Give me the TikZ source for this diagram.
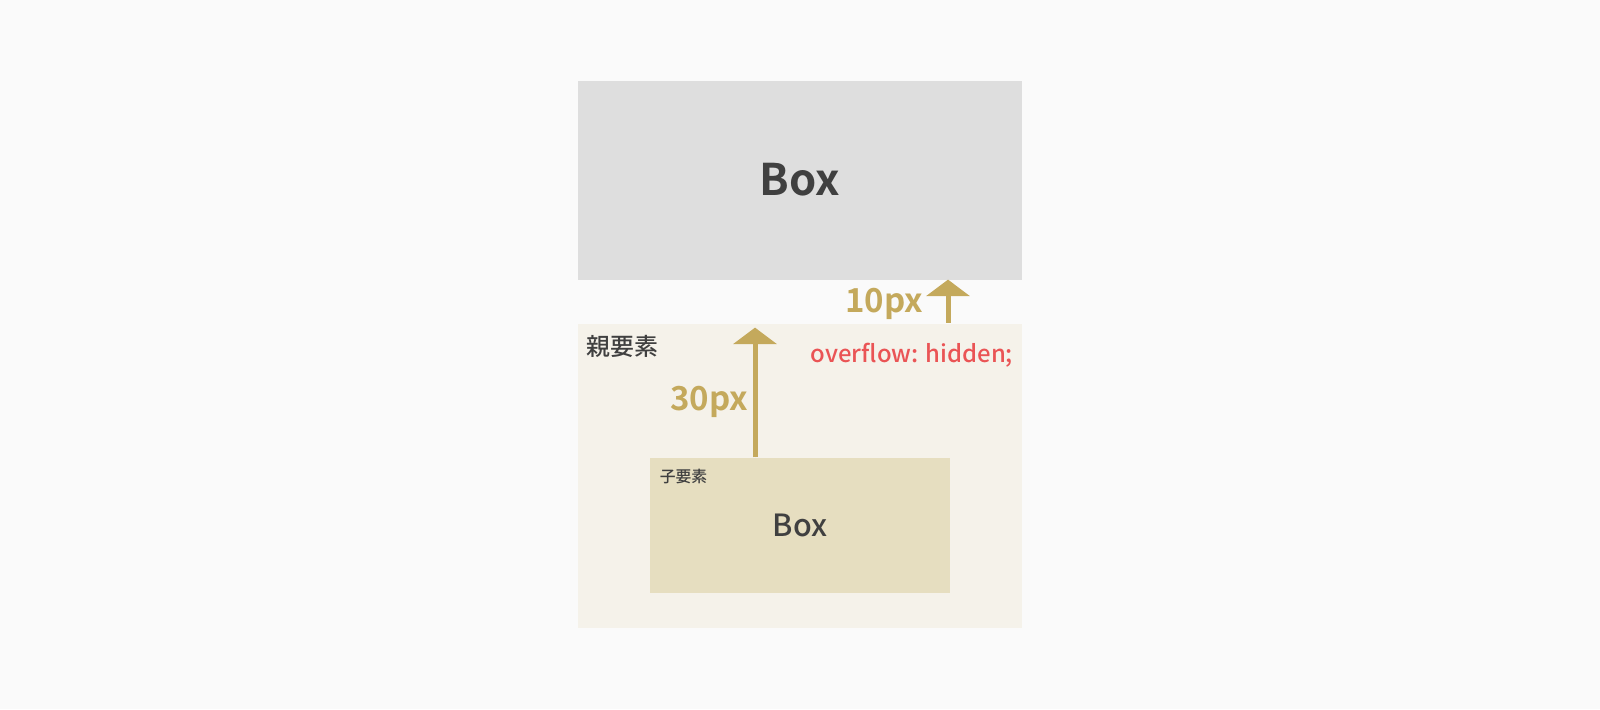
\documentclass[tikz,border=0pt]{standalone}
\usepackage{fontspec}
\setmainfont{Noto Sans CJK JP}[BoldFont={Noto Sans CJK JP Medium}]
\newfontfamily\heavyfont{Noto Sans CJK JP Bold}
\usetikzlibrary{arrows.meta}
\definecolor{bgcol}{HTML}{FAFAFA}
\definecolor{boxgray}{HTML}{DEDEDE}
\definecolor{parentcol}{HTML}{F5F2EA}
\definecolor{childcol}{HTML}{E6DEC0}
\definecolor{gold}{HTML}{C4A95C}
\definecolor{ink}{HTML}{404040}
\definecolor{alert}{HTML}{EA5455}
\begin{document}
\begin{tikzpicture}[
    panel/.style={rectangle, inner sep=0pt, text=ink, font=\bfseries},
    tag/.style={inner sep=0pt, text=ink, font=\bfseries\fontsize{6.8}{7}\selectfont},
    size/.style={inner sep=0pt, text=gold, font=\heavyfont\fontsize{9.4}{11}\selectfont},
    arrow/.style={-{Triangle[width=0.43cm,length=0.165cm]}, draw=gold, fill=gold, line width=0.05cm}
]
    \useasboundingbox[fill=bgcol] (0,0) rectangle (16,7.09);

    % Boxes
    \node[panel, fill=boxgray, minimum width=4.44cm, minimum height=1.99cm,
          font=\heavyfont\fontsize{12.4}{14}\selectfont] (top) at (7.995, 5.289) {Box};
    \node[panel, fill=parentcol, minimum width=4.44cm, minimum height=3.04cm] (parent) at (7.995, 2.335) {};
    \node[panel, fill=childcol, minimum width=3.00cm, minimum height=1.347cm,
          font=\bfseries\fontsize{8.7}{10}\selectfont] (child) at (8.00, 1.835) {Box};

    % Labels
    \node[tag] (parentlbl) at (6.225, 3.63) {親要素};
    \node[tag, font=\bfseries\fontsize{4.5}{5}\selectfont] (childlbl) at (6.835, 2.33) {子要素};
    \node[inner sep=0pt, text=alert, font=\bfseries\fontsize{6.8}{8}\selectfont] (ovf) at (9.12, 3.54) {overflow: hidden;};
    \node[size] (gap10) at (8.84, 4.05) {10px};
    \node[size] (gap30) at (7.09, 3.07) {30px};

    % Arrows
    \coordinate (tip30) at (7.55, 3.814);
    \coordinate (tip10) at (9.48, 4.294);
    \draw[arrow] (child.north -| tip30) -- (tip30);
    \draw[arrow] (parent.north -| tip10) -- (tip10);
\end{tikzpicture}
\end{document}
